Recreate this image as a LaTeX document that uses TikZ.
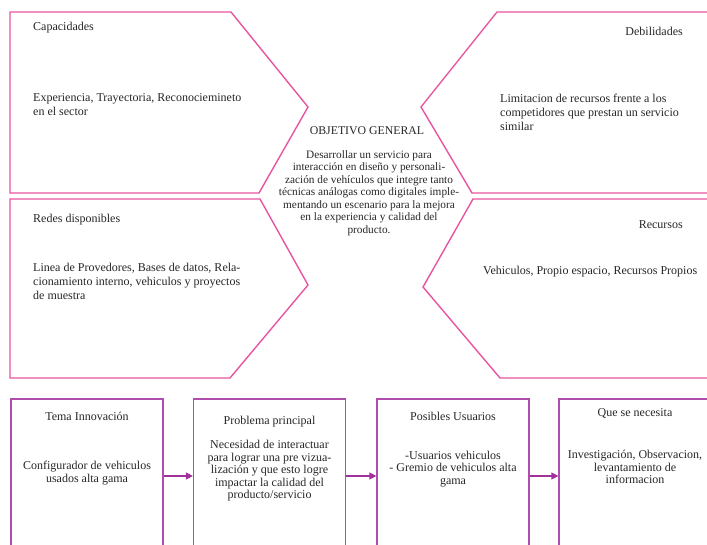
\documentclass[tikz,border=0pt]{standalone}
\usepackage{fontspec}
\setmainfont{Liberation Serif}
\usetikzlibrary{arrows.meta}
\definecolor{quadpink}{HTML}{E8549F}
\definecolor{boxpurple}{HTML}{B04DAE}
\definecolor{arrowpurple}{HTML}{A0309A}
\definecolor{ink}{HTML}{262626}
\tikzset{
  quad/.style={draw=quadpink, line width=1.4pt, line join=miter},
  quadtxt/.style={inner sep=0pt, text=ink, font=\fontsize{12}{14}\selectfont, align=left},
  objtitle/.style={inner sep=0pt, text=ink, font=\fontsize{11.8}{12.5}\selectfont, align=center},
  objtxt/.style={inner sep=0pt, text=ink, font=\fontsize{11.3}{12.5}\selectfont, align=center},
  stagebox/.style={draw=boxpurple, line width=1.2pt, minimum width=152pt, minimum height=154pt, inner sep=0pt},
  stagetxt/.style={inner sep=0pt, text=ink, font=\fontsize{12}{12.5}\selectfont, align=center},
  flow/.style={draw=arrowpurple, line width=1.2pt, -{Triangle[length=7pt,width=7pt]}}
}
\begin{document}
\begin{tikzpicture}[x=1pt,y=-1pt]
\useasboundingbox (0,0) rectangle (707,545);
\clip (0,0) rectangle (707,545);

% four pentagon quadrants around the central objective
\draw[quad] (10,12) -- (231,12) -- (308,107) -- (259,193) -- (10,193) -- cycle;
\draw[quad] (10,199) -- (260,199) -- (308,285) -- (230,378) -- (10,378) -- cycle;
\draw[quad] (497,12) -- (712,12) -- (712,193) -- (472,193) -- (421,107) -- cycle;
\draw[quad] (473,199) -- (712,199) -- (712,378) -- (500,378) -- (423,287) -- cycle;

% quadrant texts
\node[quadtxt, anchor=west] (capT) at (33,28) {Capacidades};
\node[quadtxt, anchor=west] (capB) at (33,105) {Experiencia, Trayectoria, Reconociemineto\\en el sector};
\node[quadtxt, anchor=east] (debT) at (683,31) {Debilidades};
\node[quadtxt, anchor=west] (debB) at (500,112) {Limitacion de recursos frente a los\\competidores que prestan un servicio\\similar};
\node[quadtxt, anchor=west] (redT) at (33,220) {Redes disponibles};
\node[quadtxt, anchor=west] (redB) at (33,281) {Linea de Provedores, Bases de datos, Rela-\\cionamiento interno, vehiculos y proyectos\\de muestra};
\node[quadtxt, anchor=east] (recT) at (683,225) {Recursos};
\node[quadtxt, anchor=west] (recB) at (483,272) {Vehiculos, Propio espacio, Recursos Propios};

% central objective
\node[objtitle] (objT) at (367,131) {OBJETIVO GENERAL};
\node[objtxt] (objB) at (369,193) {Desarrollar un servicio para\\interacción en diseño y personali-\\zación de vehículos que integre tanto\\técnicas análogas como digitales imple-\\mentando un escenario para la mejora\\en la experiencia y calidad del\\producto.};

% stage boxes along the bottom
\node[stagebox] (s1) at (87,476) {};
\node[stagebox] (s2) at (269.5,476) {};
\node[stagebox] (s3) at (453,476) {};
\node[stagebox] (s4) at (635,476) {};

\node[stagetxt] (s1T) at (87,416) {Tema Innovación};
\node[stagetxt] (s1B) at (87,473) {Configurador de vehiculos\\usados alta gama};
\node[stagetxt] (s2T) at (269.5,422) {Problema principal};
\node[stagetxt] (s2B) at (269.5,471) {Necesidad de interactuar\\para lograr una pre vizua-\\lización y que esto logre\\impactar la calidad del\\producto/servicio};
\node[stagetxt] (s3T) at (453,416) {Posibles Usuarios};
\node[stagetxt] (s3B) at (453,469) {-Usuarios vehiculos\\- Gremio de vehiculos alta\\gama};
\node[stagetxt] (s4T) at (635,413) {Que se necesita};
\node[stagetxt] (s4B) at (635,467) {Investigación, Observacion,\\levantamiento de\\informacion};

% connectors
\draw[flow] (s1) -- (s2);
\draw[flow] (s2) -- (s3);
\draw[flow] (s3) -- (s4);
\end{tikzpicture}
\end{document}
